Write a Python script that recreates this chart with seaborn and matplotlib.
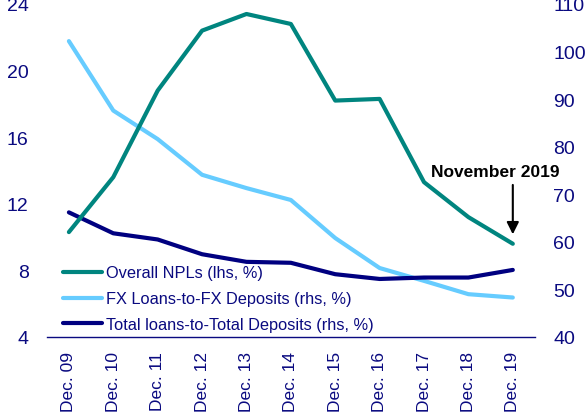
import matplotlib
matplotlib.use("Agg")
import matplotlib.pyplot as plt
import seaborn as sns
import pandas as pd
import numpy as np

categories = ["Dec. 09", "Dec. 10", "Dec. 11", "Dec. 12", "Dec. 13", "Dec. 14",
              "Dec. 15", "Dec. 16", "Dec. 17", "Dec. 18", "Dec. 19"]
npl = [10.3, 13.6, 18.8, 22.4, 23.4, 22.8, 18.2, 18.3, 13.3, 11.2, 9.6]
fx_ratio = [102.2, 87.6, 81.6, 74.1, 71.3, 68.8, 60.8, 54.5, 51.8, 49.0, 48.3]
total_ratio = [66.2, 61.8, 60.5, 57.4, 55.8, 55.6, 53.2, 52.2, 52.5, 52.5, 54.1]
left_ticks = [4, 8, 12, 16, 20, 24]
right_ticks = [40, 50, 60, 70, 80, 90, 100, 110]

labels = ["Overall NPLs (lhs, %)", "FX Loans-to-FX Deposits (rhs, %)",
          "Total loans-to-Total Deposits (rhs, %)"]
TEAL = "#00857F"
LIGHT = "#66CCFF"
NAVY = "#000080"
TXT = "#0A0A80"

sns.set_theme(style="white")
plt.rcParams['font.family'] = ['Liberation Sans', 'DejaVu Sans']

df = pd.DataFrame({"x": np.arange(len(categories)), "npl": npl,
                   "fx": fx_ratio, "tot": total_ratio})

fig = plt.figure(figsize=(5.87, 4.14), dpi=100)
ax = fig.add_axes([46.7/587, 1-338/414, (535-46.7)/587, 333/414])
ax2 = ax.twinx()

sns.lineplot(data=df, x="x", y="npl", ax=ax, color=TEAL, lw=3, label=labels[0], legend=False)
sns.lineplot(data=df, x="x", y="fx", ax=ax2, color=LIGHT, lw=3, label=labels[1], legend=False)
sns.lineplot(data=df, x="x", y="tot", ax=ax2, color=NAVY, lw=3, label=labels[2], legend=False)
ax.set_zorder(ax2.get_zorder() + 1)
ax.patch.set_visible(False)

ax.set_xlim(-0.5, len(categories) - 0.5)
ax.set_ylim(4, 24)
ax2.set_ylim(40, 110)
ax.set_yticks(left_ticks)
ax2.set_yticks(right_ticks)
ax.set_xticks(range(len(categories)))
ax.set_xticklabels(categories, rotation=90, fontsize=12.5, color=TXT)
ax.set_xticks(np.arange(-0.5, len(categories), 1), minor=True)
ax.tick_params(axis="x", which="major", length=0, pad=10)
ax.tick_params(axis="x", which="minor", length=5, width=1, color=TXT, direction="out")
ax.tick_params(axis="y", length=0, pad=13, labelsize=14, labelcolor=TXT)
ax2.tick_params(axis="y", length=0, pad=13, labelsize=14, labelcolor=TXT)
ax.set_xlabel("")
ax.set_ylabel("")
ax2.set_ylabel("")
for a in (ax, ax2):
    for s in ("top", "left", "right", "bottom"):
        a.spines[s].set_visible(False)
ax.spines["bottom"].set_visible(True)
ax.spines["bottom"].set_color(TXT)
ax.spines["bottom"].set_linewidth(1)
ax.grid(False)
ax2.grid(False)

h1, l1 = ax.get_legend_handles_labels()
h2, l2 = ax2.get_legend_handles_labels()
leg = ax.legend(h1 + h2, l1 + l2, loc="lower left", bbox_to_anchor=(0.02, -0.005),
                frameon=False, fontsize=11.8, handlelength=2.4, handletextpad=0.25,
                labelspacing=0.66, borderaxespad=0)
for t in leg.get_texts():
    t.set_color(TXT)

ax.annotate("", xy=(10, 10.0), xytext=(10, 13.3),
            arrowprops=dict(arrowstyle="-|>", color="black", lw=1.5, mutation_scale=18))
ax.text(9.6, 13.65, "November 2019", ha="center", va="baseline", fontsize=12.5,
        fontweight="bold", color="black")

fig.savefig("out.png", dpi=100)
